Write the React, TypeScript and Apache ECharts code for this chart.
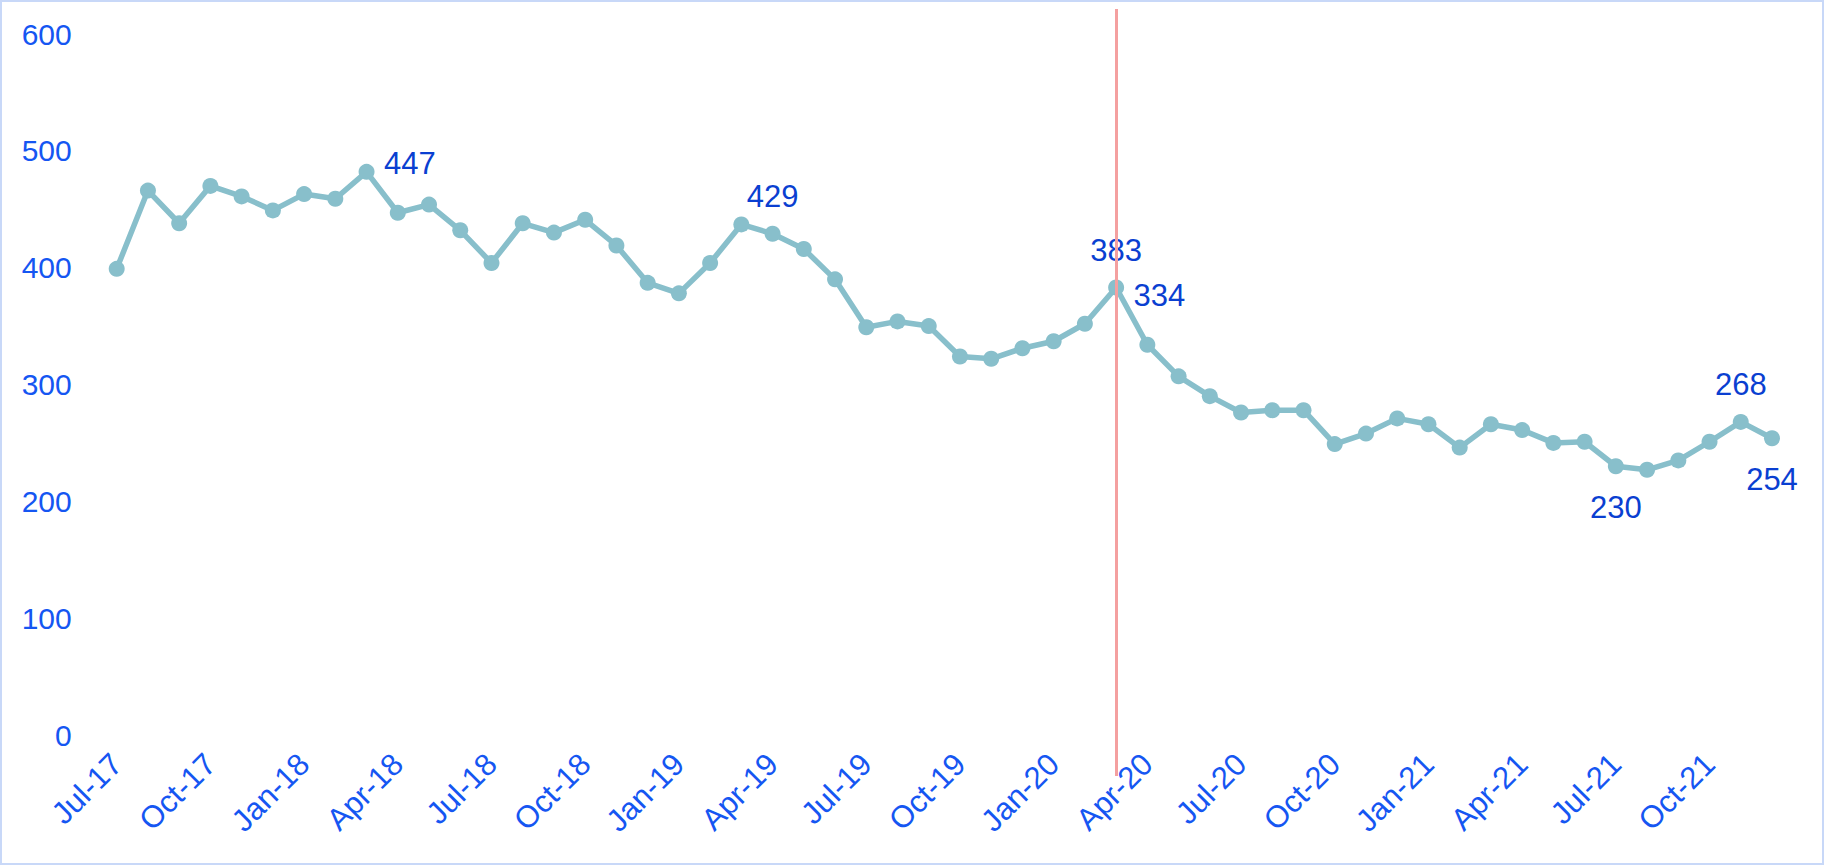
import React, { useEffect, useRef } from 'react';
import * as echarts from 'echarts';

const months = [
  'Jul-17', 'Aug-17', 'Sep-17', 'Oct-17', 'Nov-17', 'Dec-17',
  'Jan-18', 'Feb-18', 'Mar-18', 'Apr-18', 'May-18', 'Jun-18',
  'Jul-18', 'Aug-18', 'Sep-18', 'Oct-18', 'Nov-18', 'Dec-18',
  'Jan-19', 'Feb-19', 'Mar-19', 'Apr-19', 'May-19', 'Jun-19',
  'Jul-19', 'Aug-19', 'Sep-19', 'Oct-19', 'Nov-19', 'Dec-19',
  'Jan-20', 'Feb-20', 'Mar-20', 'Apr-20', 'May-20', 'Jun-20',
  'Jul-20', 'Aug-20', 'Sep-20', 'Oct-20', 'Nov-20', 'Dec-20',
  'Jan-21', 'Feb-21', 'Mar-21', 'Apr-21', 'May-21', 'Jun-21',
  'Jul-21', 'Aug-21', 'Sep-21', 'Oct-21', 'Nov-21', 'Dec-21',
];

const counts = [
  399, 466, 438, 470, 461, 449, 463, 459, 482, 447,
  454, 432, 404, 438, 430, 441, 419, 387, 378, 404,
  437, 429, 416, 390, 349, 354, 350, 324, 322, 331,
  337, 352, 383, 334, 307, 290, 276, 278, 278, 249,
  258, 271, 266, 246, 266, 261, 250, 251, 230, 227,
  235, 251, 268, 254,
];

const yTicks = [0, 100, 200, 300, 400, 500, 600];

const labelled = [
  { month: 'Apr-18', place: 'upRight' },
  { month: 'Apr-19', place: 'above' },
  { month: 'Mar-20', place: 'above' },
  { month: 'Apr-20', place: 'upRight' },
  { month: 'Jul-21', place: 'below' },
  { month: 'Nov-21', place: 'above' },
  { month: 'Dec-21', place: 'below' },
];

const markerMonth = 'Mar-20';

export default function App() {
  const ref = useRef<HTMLDivElement>(null);

  useEffect(() => {
    const chart = echarts.init(ref.current!, undefined, { renderer: 'svg' });
    const offsets: Record<string, number[]> = {
      above: [0, -37],
      below: [0, 41],
      upRight: [12, -49],
    };
    const data = counts.map((v, i) => {
      const l = labelled.find((p) => p.month === months[i]);
      if (!l) return v;
      return {
        value: v,
        label: {
          show: true,
          position: 'inside',
          offset: offsets[l.place],
        },
      };
    });
    const font = '"Liberation Sans", Arial, sans-serif';
    chart.setOption({
      animation: false,
      backgroundColor: '#ffffff',
      grid: [
        { left: 116.7, right: 52, top: 34, bottom: 130 },
        { left: 116.7, right: 52, top: 9, bottom: 89 },
      ],
      xAxis: [
        {
          type: 'category',
          data: months,
          boundaryGap: false,
          gridIndex: 0,
          axisLine: { show: false },
          axisTick: { show: false },
          splitLine: { show: false },
          axisLabel: {
            interval: 2,
            rotate: 45,
            margin: 24,
            color: '#1556f2',
            fontSize: 31,
            fontFamily: font,
          },
        },
        {
          type: 'category',
          data: months,
          boundaryGap: false,
          gridIndex: 1,
          show: false,
        },
      ],
      yAxis: [
        {
          type: 'value',
          min: yTicks[0],
          max: yTicks[yTicks.length - 1],
          interval: 100,
          gridIndex: 0,
          axisLine: { show: false },
          axisTick: { show: false },
          splitLine: { show: false },
          axisLabel: {
            margin: 45,
            color: '#1556f2',
            fontSize: 30,
            fontFamily: font,
          },
        },
        { type: 'value', min: 0, max: 1, gridIndex: 1, show: false },
      ],
      series: [
        {
          type: 'line',
          xAxisIndex: 1,
          yAxisIndex: 1,
          data: [],
          silent: true,
          markLine: {
            symbol: 'none',
            silent: true,
            label: { show: false },
            lineStyle: { color: '#f4a0a0', width: 3, type: 'solid' },
            data: [{ xAxis: markerMonth }],
          },
        },
        {
          type: 'line',
          xAxisIndex: 0,
          yAxisIndex: 0,
          data,
          symbol: 'circle',
          symbolSize: 16,
          z: 3,
          lineStyle: { color: '#88bfcb', width: 5.5 },
          itemStyle: { color: '#88bfcb' },
          label: {
            show: false,
            color: '#0a3fd1',
            fontSize: 31,
            fontFamily: font,
          },
        },
      ],
    });
    return () => chart.dispose();
  }, []);

  return (
    <div style={{ position: 'fixed', left: 0, top: 0, width: 1824, height: 865, background: '#fff' }}>
      <div ref={ref} style={{ width: 1824, height: 865 }} />
      <div
        style={{
          position: 'absolute',
          left: 0,
          top: 0,
          width: 1824,
          height: 865,
          boxSizing: 'border-box',
          border: '2px solid #c8d8f8',
          pointerEvents: 'none',
        }}
      />
    </div>
  );
}
